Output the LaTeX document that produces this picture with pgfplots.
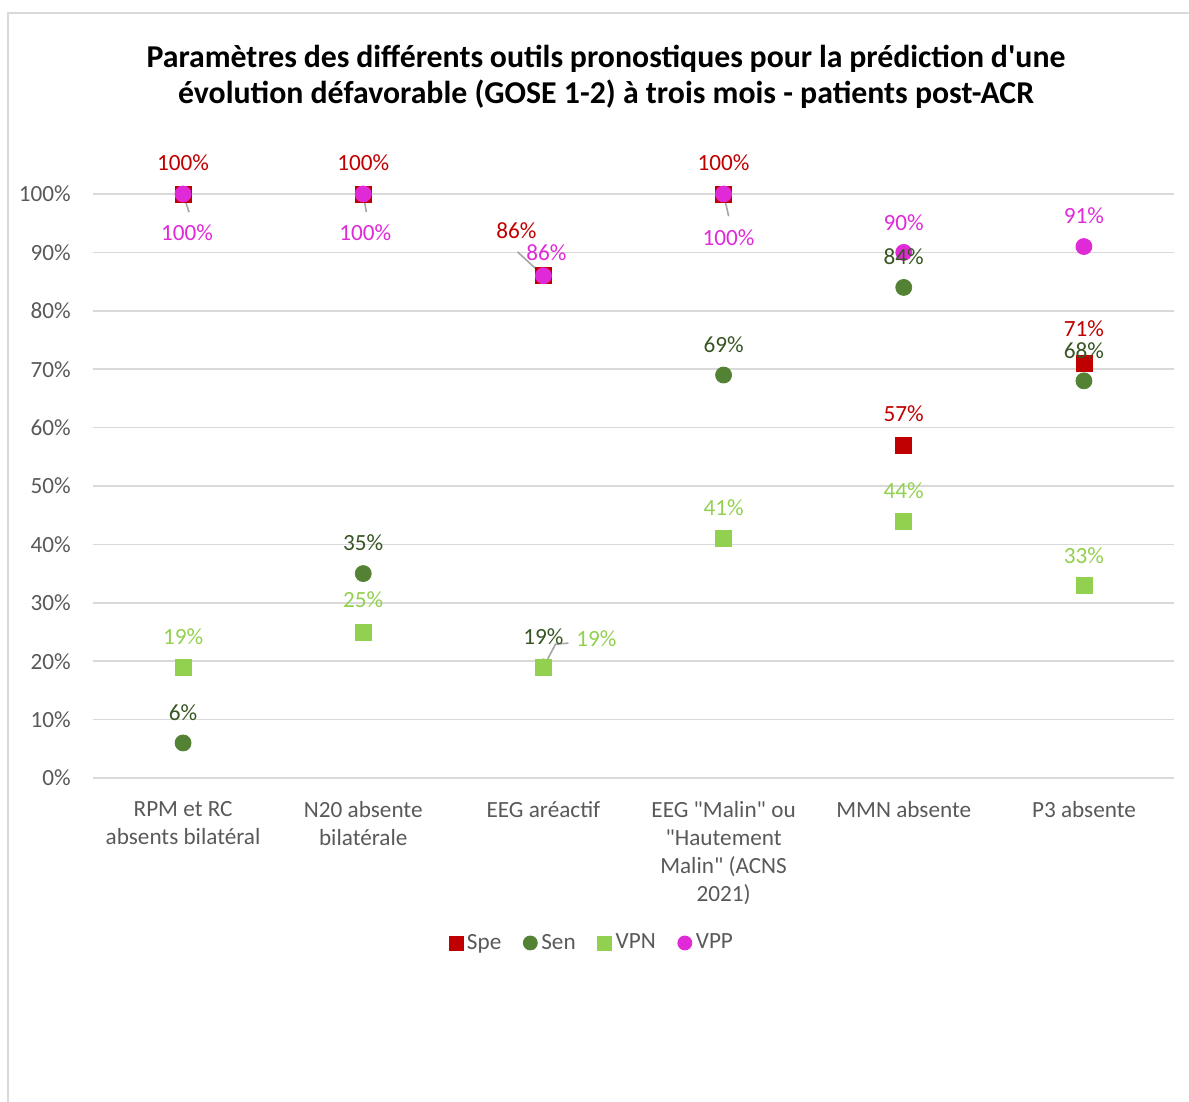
\documentclass[border=0pt]{standalone}
\usepackage{fontspec}
\setmainfont{Carlito}[Ligatures=TeXOff]
\usepackage{pgfplots}
\usepackage{pgfplotstable}
\pgfplotsset{compat=1.18}

\definecolor{spec}{HTML}{C00000}
\definecolor{senc}{HTML}{548235}
\definecolor{sent}{HTML}{375623}
\definecolor{vpnc}{HTML}{92D050}
\definecolor{vppc}{HTML}{E02AD8}
\definecolor{gridc}{HTML}{D9D9D9}
\definecolor{tickc}{HTML}{595959}
\definecolor{leadc}{HTML}{A6A6A6}

% x = category, y = value, dx/dy = label offset (pt)
\pgfplotstableread{
x y dx dy
0 100 0 15.5
1 100 0 15.5
2 86 -13.5 22.5
3 100 0 15.5
4 57 0 15.5
5 71 0 17.5
}\spe
\pgfplotstableread{
x y dx dy
0 6 0 15
1 35 0 15.5
2 19 0 15
3 69 0 15
4 84 0 15.5
5 68 0 15
}\sen
\pgfplotstableread{
x y dx dy
0 19 0 15
1 25 0 16
2 19 26.5 14
3 41 0 15.5
4 44 0 15
5 33 0 15
}\vpn
\pgfplotstableread{
x y dx dy
0 100 2 -19.5
1 100 1 -19.5
2 86 1.5 11.5
3 100 2.5 -22
4 90 0 15
5 91 0 15.5
}\vpp

\newcommand{\lblfont}{\fontsize{11.6}{14}\selectfont}

\tikzset{leader/.style={draw=leadc, line width=0.8pt}}
\pgfplotsset{
  /pgf/number format/assume math mode=true,
  lbl/.style={draw=none, mark=none, forget plot,
    point meta=explicit,
    nodes near coords={\pgfmathprintnumber[fixed,precision=0]{\pgfplotspointmeta}\%},
    visualization depends on={\thisrow{dx}\as\dx},
    visualization depends on={\thisrow{dy}\as\dy},
    every node near coord/.append style={anchor=center, inner sep=0pt,
      xshift=\dx pt, yshift=\dy pt, font=\lblfont, text=#1}},
}

\begin{document}
\begin{tikzpicture}
\useasboundingbox (0,0) rectangle (594.5pt,551pt);
\draw[gridc, line width=1pt] (4pt,0) -- (4pt,544.5pt) -- (594.5pt,544.5pt);

\begin{axis}[
  at={(46.5pt,162pt)}, anchor=south west,
  width=540.5pt, height=292pt, scale only axis,
  clip=false,
  xmin=-0.5, xmax=5.5, ymin=0, ymax=100,
  xtick={0,...,5},
  xticklabels={{RPM et RC\\absents bilatéral},{N20 absente\\bilatérale},{EEG aréactif},{EEG "Malin" ou\\"Hautement\\Malin" (ACNS\\2021)},{MMN absente},{P3 absente}},
  ytick={0,10,...,100},
  yticklabel={\pgfmathprintnumber{\tick}\%},
  ymajorgrids,
  grid style={gridc, line width=0.75pt},
  axis line style={draw=none},
  major tick length=0pt,
  tick style={draw=none},
  yticklabel style={font=\lblfont, text=tickc, xshift=-7.6pt},
  xticklabel style={font=\lblfont, text=tickc, align=center, yshift=-8pt},
  title={\makebox[459.5pt][s]{Paramètres des différents outils pronostiques pour la prédiction d'une}\\évolution défavorable (GOSE 1-2) à trois mois - patients post-ACR},
  title style={at={(0.4746,1.1798)}, anchor=center, align=center,
    font=\bfseries\fontsize{15.9}{18}\selectfont},
  legend style={at={(0.4625,-0.2825)}, anchor=center, draw=none,
    legend columns=4, font=\lblfont, text=tickc,
    /tikz/every even column/.append style={column sep=9pt}},
  legend image code/.code={\draw[#1, mark size=3.5pt] plot coordinates {(0pt,0pt)};},
]
\addplot[only marks, mark=square*, mark size=4pt, color=spec] table[x=x,y=y]{\spe};
\addlegendentry{Spe}
\addplot[only marks, mark=*, mark size=4pt, color=senc] table[x=x,y=y]{\sen};
\addlegendentry{Sen}
\addplot[only marks, mark=square*, mark size=4pt, color=vpnc] table[x=x,y=y]{\vpn};
\addlegendentry{VPN}
\addplot[only marks, mark=*, mark size=4pt, color=vppc] table[x=x,y=y]{\vpp};
\addlegendentry{VPP}

% leader lines
\draw[leader] (axis cs:0,100) -- (axis cs:0.033,96.9);
\draw[leader] (axis cs:1,100) -- (axis cs:1.017,96.9);
\draw[leader] (axis cs:2,86) -- (axis cs:1.856,90.1);
\draw[leader] (axis cs:2,19) -- (axis cs:2.067,22.9) -- (axis cs:2.139,23.1);
\draw[leader] (axis cs:3,100) -- (axis cs:3.028,96.2);

% data labels
\addplot[lbl=spec] table[x=x,y=y,meta=y]{\spe};
\addplot[lbl=sent] table[x=x,y=y,meta=y]{\sen};
\addplot[lbl=vpnc] table[x=x,y=y,meta=y]{\vpn};
\addplot[lbl=vppc] table[x=x,y=y,meta=y]{\vpp};
\end{axis}
\end{tikzpicture}
\end{document}
